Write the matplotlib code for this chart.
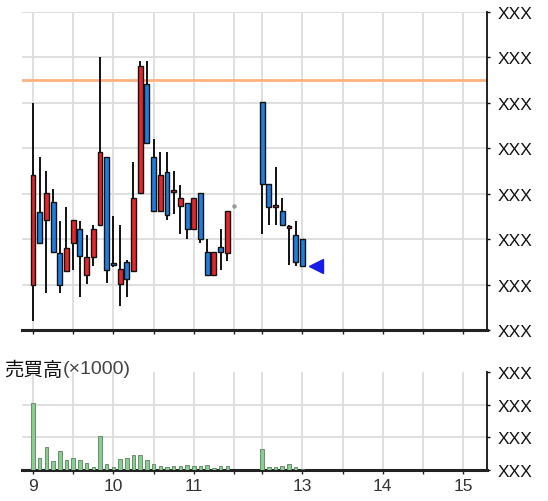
import numpy as np
import matplotlib.pyplot as plt

plt.rcParams['font.family'] = ['Liberation Sans', 'Noto Sans CJK JP', 'DejaVu Sans']

# 5-minute bars, morning and afternoon session
times = ['09:00', '09:05', '09:10', '09:15', '09:20', '09:25', '09:30', '09:35', '09:40', '09:45',
         '09:50', '09:55', '10:00', '10:05', '10:10', '10:15', '10:20', '10:25', '10:30', '10:35',
         '10:40', '10:45', '10:50', '10:55', '11:00', '11:05', '11:10', '11:15', '11:20', '11:25',
         '12:30', '12:35', '12:40', '12:45', '12:50', '12:55', '13:00']
opens = [1.00, 2.60, 2.42, 2.82, 1.69, 1.30, 1.92, 2.22, 1.21, 1.61,
         2.31, 3.81, 1.47, 1.01, 1.50, 1.30, 3.02, 5.41, 3.81, 2.62,
         3.48, 3.04, 2.73, 2.80, 2.22, 3.02, 1.72, 1.21, 1.83, 1.69,
         5.02, 3.21, 2.71, 2.62, 2.25, 2.09, 2.00]
highs = [5.00, 3.80, 3.51, 3.10, 2.40, 2.71, 2.42, 2.40, 2.09, 2.31,
         6.01, 3.81, 2.51, 2.31, 1.55, 3.70, 5.92, 5.92, 4.20, 3.92,
         3.92, 3.50, 3.19, 2.80, 2.91, 3.02, 2.00, 1.72, 2.22, 2.62,
         5.02, 3.21, 3.59, 2.91, 2.31, 2.40, 2.00]
lows = [0.20, 1.92, 0.81, 1.72, 0.81, 1.30, 1.32, 0.73, 1.01, 1.41,
        2.31, 1.03, 1.39, 0.53, 0.73, 1.30, 3.02, 4.12, 2.62, 2.62,
        2.42, 2.55, 2.11, 2.00, 2.22, 1.92, 1.21, 1.21, 1.32, 1.52,
        2.11, 2.31, 2.31, 2.31, 1.43, 1.41, 1.41]
closes = [3.42, 1.92, 3.02, 1.72, 0.99, 1.80, 2.42, 1.63, 1.61, 2.22,
          3.92, 1.32, 1.43, 1.34, 1.12, 2.91, 5.81, 4.12, 2.62, 3.41,
          2.53, 3.08, 2.91, 2.22, 2.91, 2.00, 1.21, 1.72, 1.72, 2.62,
          3.21, 2.71, 2.71, 2.31, 2.29, 1.50, 1.41]
volume = [2.05, 0.36, 0.69, 0.28, 0.57, 0.31, 0.38, 0.31, 0.21, 0.10,
          1.03, 0.18, 0.10, 0.33, 0.36, 0.46, 0.46, 0.31, 0.18, 0.12,
          0.10, 0.12, 0.12, 0.15, 0.12, 0.12, 0.15, 0.07, 0.13, 0.13,
          0.63, 0.08, 0.10, 0.12, 0.18, 0.08, 0.03]

close_tick = ('11:30', 2.73)      # morning close print
last_mark = ('13:10', 1.41)       # current price marker
ref_line = 5.51                   # previous close line

grid_times = ['09:00', '09:30', '10:00', '10:30', '11:00', '11:30',
              '12:30', '13:00', '13:30', '14:00', '14:30', '15:00']
hour_labels = {'09:00': '9', '10:00': '10', '11:00': '11', '13:00': '13', '14:00': '14', '15:00': '15'}
price_ticks = [0, 1, 2, 3, 4, 5, 6, 7]
vol_ticks = [0, 1, 2, 3]

LUNCH = 39  # minutes cut out of the lunch break


def tx(s):
    h, m = map(int, s.split(':'))
    mins = h * 60 + m - 540
    return mins if mins <= 150 else mins - LUNCH


x = np.array([tx(t) for t in times])
o = np.array(opens); c = np.array(closes)
up = c >= o

fig = plt.figure(figsize=(5.48, 5.02), dpi=100)
ax = fig.add_axes([22 / 548, 1 - 331 / 502, 465 / 548, 318 / 502])
axv = fig.add_axes([22 / 548, 1 - 471 / 502, 465 / 548, 98 / 502])

gx = [tx(t) for t in grid_times]
for a in (ax, axv):
    a.set_xlim(-8.2, 338.8)
    a.set_xticks(gx)
    a.grid(True, color='#dcdcdc', lw=1.3)
    a.set_axisbelow(True)
    a.yaxis.tick_right()
    for s in ('left', 'top'):
        a.spines[s].set_visible(False)
    a.spines['right'].set_color('#111')
    a.spines['right'].set_linewidth(1.3)
    a.spines['bottom'].set_color('#222')
    a.spines['bottom'].set_linewidth(2.2)
    a.tick_params(axis='y', length=2.5, width=1, pad=5, labelsize=12.5, colors='#111')
    a.tick_params(axis='x', length=3, width=1, color='#222', labelsize=12.5, labelcolor='#333')

# price panel
ax.set_ylim(0, 7)
ax.set_yticks(price_ticks)
ax.set_yticklabels(['XXX'] * len(price_ticks))
ax.set_xticklabels([])
ax.axhline(ref_line, color='#ffb27e', lw=2, zorder=1)
ax.vlines(x, lows, highs, color='#111', lw=1.4, zorder=2)
body_h = np.maximum(np.abs(c - o), 0.04)
ax.bar(x, body_h, bottom=np.minimum(o, c), width=3.6,
       color=np.where(up, '#e8262a', '#1f7fe0'), edgecolor='#111', lw=1.0, zorder=3)
ax.plot(tx(close_tick[0]), close_tick[1], 'o', ms=2.2, color='#999', zorder=3)
ax.plot(tx(last_mark[0]), last_mark[1], '<', ms=10, color='#1a1ae6', zorder=4)

# volume panel
axv.set_ylim(0, 3)
axv.set_yticks(vol_ticks)
axv.set_yticklabels(['XXX'] * len(vol_ticks))
axv.yaxis.get_gridlines()[-1].set_visible(False)
axv.bar(x, volume, width=2.6, color='#86cf8f', edgecolor='#5f7f63', lw=0.6, zorder=3)
axv.set_xticklabels([hour_labels.get(t, '') for t in grid_times])
axv.tick_params(axis='x', pad=3)

fig.text(4 / 548, 1 - 370 / 502, '売買高', fontsize=14, color='#111',
         family=['Noto Sans CJK JP'], va='center', ha='left')
fig.text(63 / 548, 1 - 370 / 502, '(×1000)', fontsize=14, color='#444', va='center', ha='left')

fig.savefig('out.png', dpi=100)
